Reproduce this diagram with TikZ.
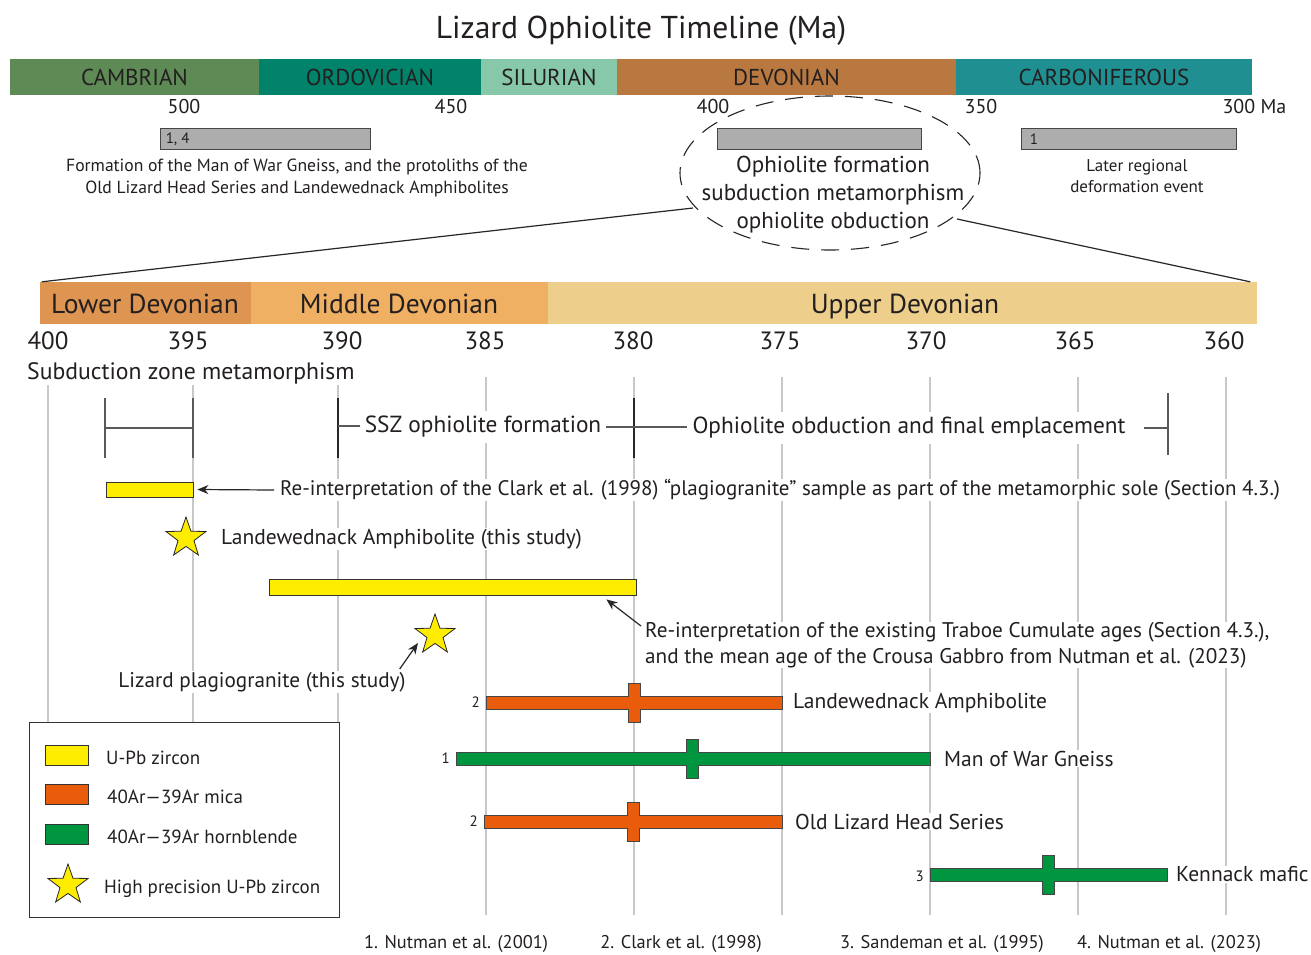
\documentclass[tikz,border=0pt]{standalone}
\usepackage{fontspec}
\setmainfont{PT Sans}
\usetikzlibrary{shapes.geometric,arrows.meta,calc}
\definecolor{txt}{RGB}{35,31,32}
\definecolor{cambrian}{RGB}{94,138,86}
\definecolor{ordovician}{RGB}{0,131,106}
\definecolor{silurian}{RGB}{134,200,169}
\definecolor{devonian}{RGB}{184,120,64}
\definecolor{carbon}{RGB}{31,143,145}
\definecolor{ldev}{RGB}{222,149,82}
\definecolor{mdev}{RGB}{239,176,99}
\definecolor{udev}{RGB}{237,207,139}
\definecolor{gbarfill}{RGB}{173,173,173}
\definecolor{gbarline}{RGB}{70,70,70}
\definecolor{upb}{RGB}{255,237,0}
\definecolor{mica}{RGB}{232,92,12}
\definecolor{hbl}{RGB}{0,150,64}
\definecolor{gridc}{RGB}{200,200,200}
\definecolor{brk}{RGB}{88,89,91}
\newcommand\agebar[6]{%
  \draw[draw=gbarline, fill=#1, line width=0.8]
    (#2,#5-6.5) -- (#4-6,#5-6.5) -- (#4-6,#5-19.5) -- (#4+6,#5-19.5) -- (#4+6,#5-6.5)
    -- (#3,#5-6.5) -- (#3,#5+6.5) -- (#4+6,#5+6.5) -- (#4+6,#5+19.5) -- (#4-6,#5+19.5)
    -- (#4-6,#5+6.5) -- (#2,#5+6.5) -- cycle;
  \coordinate (#6) at (#3,#5);}
\tikzset{
  period/.style={minimum height=36, inner sep=0, text=txt, font=\fontsize{23}{26}\selectfont},
  epoch/.style={minimum height=42, inner sep=0},
  epochtxt/.style={anchor=base, inner sep=0, text=txt, font=\fontsize{27.5}{30}\selectfont},
  lbl/.style={inner sep=1, text=txt, fill=white},
  greybox/.style={draw=gbarline, fill=gbarfill, line width=0.8, minimum height=21, inner sep=0},
  ybox/.style={draw=black!80, fill=upb, line width=0.8, inner sep=0},
  lgbox/.style={draw=black!80, line width=0.8, minimum width=43, minimum height=20, inner sep=0},
  ystar/.style={star, star points=5, star point ratio=2.5, minimum size=42, inner sep=0, fill=upb, draw=black!85, line width=0.8},
  gline/.style={draw=gridc, line width=1.1},
  bline/.style={draw=brk, line width=1.3},
  arr/.style={-{Stealth[length=11pt,width=9pt]}, line width=1.2, black!85},
  f20/.style={font=\fontsize{20}{24}\selectfont},
  f25/.style={font=\fontsize{25}{29}\selectfont},
  barlbl/.style={lbl, anchor=west, font=\fontsize{21.5}{25}\selectfont},
  num/.style={text=txt, inner sep=0, font=\fontsize{15}{18}\selectfont, anchor=east},
  ref/.style={text=txt, font=\fontsize{18.4}{22}\selectfont},
}
\begin{document}
\begin{tikzpicture}[x=1pt,y=-1pt]
\useasboundingbox[fill=white] (0,0) rectangle (1311,954);
% title
\node[text=txt, font=\fontsize{31.6}{36}\selectfont] (title) at (641,31) {Lizard Ophiolite Timeline (Ma)};
% periods
\node[period, fill=cambrian, minimum width=249] (camb) at (134.5,77) {CAMBRIAN};
\node[period, fill=ordovician, minimum width=222] (ordo) at (370,77) {ORDOVICIAN};
\node[period, fill=silurian, minimum width=136] (silu) at (549,77) {SILURIAN};
\node[period, fill=devonian, minimum width=339] (devo) at (786.5,77) {DEVONIAN};
\node[period, fill=carbon, minimum width=296] (carb) at (1104,77) {CARBONIFEROUS};
% top axis
\node[f20, text=txt] (a500) at (184,106) {500};
\node[f20, text=txt] (a450) at (451,106) {450};
\node[f20, text=txt] (a400) at (713,106) {400};
\node[f20, text=txt] (a350) at (981,106) {350};
\node[f20, text=txt, anchor=west] (a300) at (1219,106) {300 Ma};
% grey bars
\node[greybox, minimum width=210] (gb1) at (265,138.5) {};
\node[text=txt, anchor=west, inner sep=0, font=\fontsize{15}{18}\selectfont] (gb1t) at ($(gb1.west)+(6,1)$) {1, 4};
\node[greybox, minimum width=204] (gb2) at (819,138.5) {};
\node[greybox, minimum width=215] (gb3) at (1128.5,138.5) {};
\node[text=txt, anchor=west, inner sep=0, font=\fontsize{15}{18}\selectfont] (gb3t) at ($(gb3.west)+(9,1)$) {1};
\node[text=txt, align=center, inner sep=0, font=\fontsize{17.6}{22}\selectfont] (form) at (297,178) {Formation of the Man of War Gneiss, and the protoliths of the\\Old Lizard Head Series and Landewednack Amphibolites};
\node[text=txt, align=center, inner sep=0, font=\fontsize{17}{21.5}\selectfont] (later) at (1137,176) {Later regional\\deformation event};
% ellipse
\node[ellipse, draw=black!85, dashed, dash pattern=on 18pt off 12pt, line width=1.1, minimum width=300, minimum height=154, inner sep=0] (ell) at (830,173) {};
\node[text=txt, align=center, inner sep=0, font=\fontsize{23}{28}\selectfont] (ophtxt) at (833,195) {Ophiolite formation\\subduction metamorphism\\ophiolite obduction};
% epochs
\node[epoch, fill=ldev, minimum width=211] (ldevn) at (145.5,303) {};
\node[epoch, fill=mdev, minimum width=297] (mdevn) at (399.5,303) {};
\node[epoch, fill=udev, minimum width=709] (udevn) at (902.5,303) {};
\node[epochtxt] (ldevt) at (145,313) {Lower Devonian};
\node[epochtxt] (mdevt) at (399,313) {Middle Devonian};
\node[epochtxt] (udevt) at (905,313) {Upper Devonian};
% zoom lines
\coordinate (zl) at (693,208);
\coordinate (zr) at (957,219);
\draw[line width=1.2, black!85] (zl) -- ($(ldevn.north west)+(2,0)$);
\draw[line width=1.2, black!85] (zr) -- ($(udevn.north east)+(-7,0)$);
% grid lines
\foreach \x/\n in {48/g400,193/g395,338/g390,486/g385,634/g380,782/g375,930/g370,1078/g365,1226/g360}{
  \coordinate (\n t) at (\x,377);
  \coordinate (\n b) at (\x,915);
  \draw[gline] (\n t) -- (\n b);
}
% age labels
\foreach \x/\a in {48/400,188/395,342/390,485/385,633/380,780/375,926/370,1075/365,1224/360}{
  \node[f25, text=txt, inner sep=0] (age\a) at (\x,341) {\a};
}
\node[lbl, anchor=west, font=\fontsize{23.7}{27}\selectfont] (subz) at (26,373) {Subduction zone metamorphism};
% brackets
\coordinate (b1a) at (105,398); \coordinate (b1b) at (105,458);
\coordinate (b2a) at (193,398); \coordinate (b2b) at (193,458);
\draw[bline] (b1a) -- (b1b);
\draw[bline] (b2a) -- (b2b);
\draw[bline] (105,428) -- (193,428);
\coordinate (b3a) at (338,398); \coordinate (b3b) at (338,458);
\draw[bline, draw=black!85] (b3a) -- (b3b);
\coordinate (b4a) at (634,398); \coordinate (b4b) at (634,458);
\draw[bline, draw=black!85] (b4a) -- (b4b);
\coordinate (b5a) at (1168,393); \coordinate (b5b) at (1168,455);
\draw[bline] (b5a) -- (b5b);
\node[lbl, font=\fontsize{23.3}{27}\selectfont, inner sep=5] (ssz) at (483,427) {SSZ ophiolite formation};
\node[lbl, font=\fontsize{23.3}{27}\selectfont, inner sep=5] (obd) at (909,428) {Ophiolite obduction and final emplacement};
\draw[bline] (338,426) -- (ssz.west |- 0,426);
\draw[bline] (ssz.east |- 0,427) -- (obd.west |- 0,427);
\draw[bline] ($(obd.east)+(13,0)$) -- (1168,428);
% yellow bars & arrows
\node[ybox, minimum width=87, minimum height=15] (yb1) at (149.5,489.5) {};
\node[lbl, anchor=west, font=\fontsize{21}{25}\selectfont] (re1) at (279,490) {Re-interpretation of the Clark et al. (1998) “plagiogranite” sample as part of the metamorphic sole (Section 4.3.)};
\draw[arr] ($(re1.west)+(-5,0)$) -- ($(yb1.east)+(4,0)$);
\node[ystar] (s1) at (186,538) {};
\node[lbl, anchor=west, font=\fontsize{21.5}{25}\selectfont] (lat) at (220,539) {Landewednack Amphibolite (this study)};
\node[ybox, minimum width=367, minimum height=16] (yb2) at (452.5,587) {};
\node[lbl, anchor=north west, align=left, font=\fontsize{21.2}{26}\selectfont, inner sep=0] (trab) at (645,622) {Re-interpretation of the existing Traboe Cumulate ages (Section 4.3.),\\and the mean age of the Crousa Gabbro from Nutman et al. (2023)};
\draw[arr] ($(trab.north west)+(-4,4)$) -- ($(yb2.south east)+(-30,4)$);
\node[ystar] (s2) at (435,635) {};
\node[lbl, font=\fontsize{21.2}{25}\selectfont] (plag) at (262,682) {Lizard plagiogranite (this study)};
\draw[arr] ($(plag.north east)+(-7,-2)$) -- ($(s2)+(-17,8)$);
% age bars
\agebar{mica}{486}{782}{634}{702.5}{ab1}
\agebar{hbl}{456}{930}{692}{758.5}{ab2}
\agebar{mica}{484}{782}{633}{821.5}{ab3}
\agebar{hbl}{930}{1167}{1048}{874.5}{ab4}
\node[num] (n1) at (480,702) {2};
\node[num] (n2) at (450,758) {1};
\node[num] (n3) at (478,821) {2};
\node[num] (n4) at (924,876) {3};
\node[barlbl] (t1) at ($(ab1)+(10,0)$) {Landewednack Amphibolite};
\node[barlbl] (t2) at ($(ab2)+(13,0)$) {Man of War Gneiss};
\node[barlbl] (t3) at ($(ab3)+(12,0)$) {Old Lizard Head Series};
\node[barlbl] (t4) at ($(ab4)+(8,0)$) {Kennack mafic};
% legend
\node[draw=black!80, fill=white, line width=1, minimum width=310, minimum height=195, anchor=north west, inner sep=0] (legend) at (29,722) {};
\node[lgbox, fill=upb] (lk1) at (66.5,755) {};
\node[lgbox, fill=mica] (lk2) at (66.5,794) {};
\node[lgbox, fill=hbl] (lk3) at (66.5,834) {};
\node[ystar] (lk4) at (68,885) {};
\node[lbl, anchor=west, font=\fontsize{19}{23}\selectfont] (lt1) at (105,758) {U-Pb zircon};
\node[lbl, anchor=west, font=\fontsize{19}{23}\selectfont] (lt2) at (106,797) {40Ar—39Ar mica};
\node[lbl, anchor=west, font=\fontsize{19}{23}\selectfont] (lt3) at (106,837) {40Ar—39Ar hornblende};
\node[lbl, anchor=west, font=\fontsize{19}{23}\selectfont] (lt4) at (103,889) {High precision U-Pb zircon};
% references
\node[ref] (r1) at (456,944) {1. Nutman et al. (2001)};
\node[ref] (r2) at (681,944) {2. Clark et al. (1998)};
\node[ref] (r3) at (942,944) {3. Sandeman et al. (1995)};
\node[ref] (r4) at (1169,944) {4. Nutman et al. (2023)};
\end{tikzpicture}
\end{document}
